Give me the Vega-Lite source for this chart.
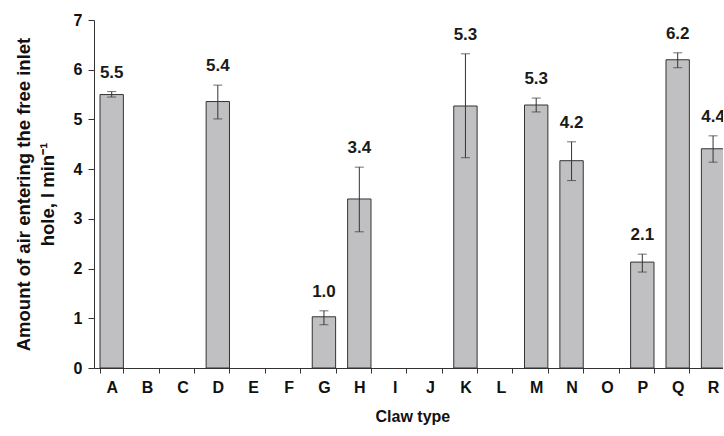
{
  "$schema": "https://vega.github.io/schema/vega-lite/v6.json",
  "width": 629,
  "height": 348,
  "autosize": {"type": "none"},
  "padding": {"left": 94, "top": 20, "right": 0, "bottom": 68},
  "background": "white",
  "config": {
    "view": {"stroke": null},
    "font": "Liberation Sans",
    "axis": {"domainColor": "#333", "tickColor": "#333", "labelColor": "#111", "titleColor": "#111", "grid": false, "labelFontWeight": "bold", "titleFontWeight": "bold", "labelFont": "Liberation Sans", "titleFont": "Liberation Sans"}
  },
  "data": {
    "values": [
      {"claw": "A", "mean": 5.50, "low": 5.45, "high": 5.56},
      {"claw": "D", "mean": 5.36, "low": 5.01, "high": 5.69},
      {"claw": "G", "mean": 1.03, "low": 0.87, "high": 1.15},
      {"claw": "H", "mean": 3.40, "low": 2.74, "high": 4.04},
      {"claw": "K", "mean": 5.27, "low": 4.23, "high": 6.32},
      {"claw": "M", "mean": 5.29, "low": 5.15, "high": 5.43},
      {"claw": "N", "mean": 4.17, "low": 3.77, "high": 4.55},
      {"claw": "P", "mean": 2.13, "low": 1.93, "high": 2.29},
      {"claw": "Q", "mean": 6.20, "low": 6.04, "high": 6.34},
      {"claw": "R", "mean": 4.41, "low": 4.14, "high": 4.67}
    ]
  },
  "encoding": {
    "x": {
      "field": "claw",
      "type": "nominal",
      "scale": {
        "domain": ["A", "B", "C", "D", "E", "F", "G", "H", "I", "J", "K", "L", "M", "N", "O", "P", "Q", "R"],
        "range": [0, 636.75],
        "paddingInner": 0.34,
        "paddingOuter": 0.17
      },
      "axis": {
        "title": "Claw type",
        "labelAngle": 0,
        "tickBand": "extent",
        "tickSize": 5,
        "labelFontSize": 16,
        "labelPadding": 6,
        "titleFontSize": 16,
        "titlePadding": 13
      }
    }
  },
  "layer": [
    {
      "mark": {"type": "bar", "fill": "#c0c0c2", "stroke": "#333", "strokeWidth": 1, "clip": true},
      "encoding": {
        "y": {
          "field": "mean",
          "type": "quantitative",
          "scale": {"domain": [0, 7]},
          "axis": {
            "title": ["Amount of air entering the free inlet", "hole, l min⁻¹"],
            "values": [0, 1, 2, 3, 4, 5, 6, 7],
            "tickSize": 6,
            "labelFontSize": 16,
            "labelPadding": 6,
            "titleFontSize": 18.5,
            "titlePadding": 16,
            "titleLineHeight": 24
          }
        }
      }
    },
    {
      "mark": {"type": "rule", "color": "#333", "strokeWidth": 1, "clip": true},
      "encoding": {
        "y": {"field": "low", "type": "quantitative"},
        "y2": {"field": "high"}
      }
    },
    {
      "mark": {"type": "tick", "size": 9, "thickness": 1, "color": "#333", "clip": true},
      "encoding": {"y": {"field": "low", "type": "quantitative"}}
    },
    {
      "mark": {"type": "tick", "size": 9, "thickness": 1, "color": "#333", "clip": true},
      "encoding": {"y": {"field": "high", "type": "quantitative"}}
    },
    {
      "mark": {"type": "text", "fontWeight": "bold", "fontSize": 17, "baseline": "middle", "dy": -19, "color": "#1a1a1a", "clip": true},
      "encoding": {
        "y": {"field": "high", "type": "quantitative"},
        "text": {"field": "mean", "type": "quantitative", "format": ".1f"}
      }
    }
  ]
}
